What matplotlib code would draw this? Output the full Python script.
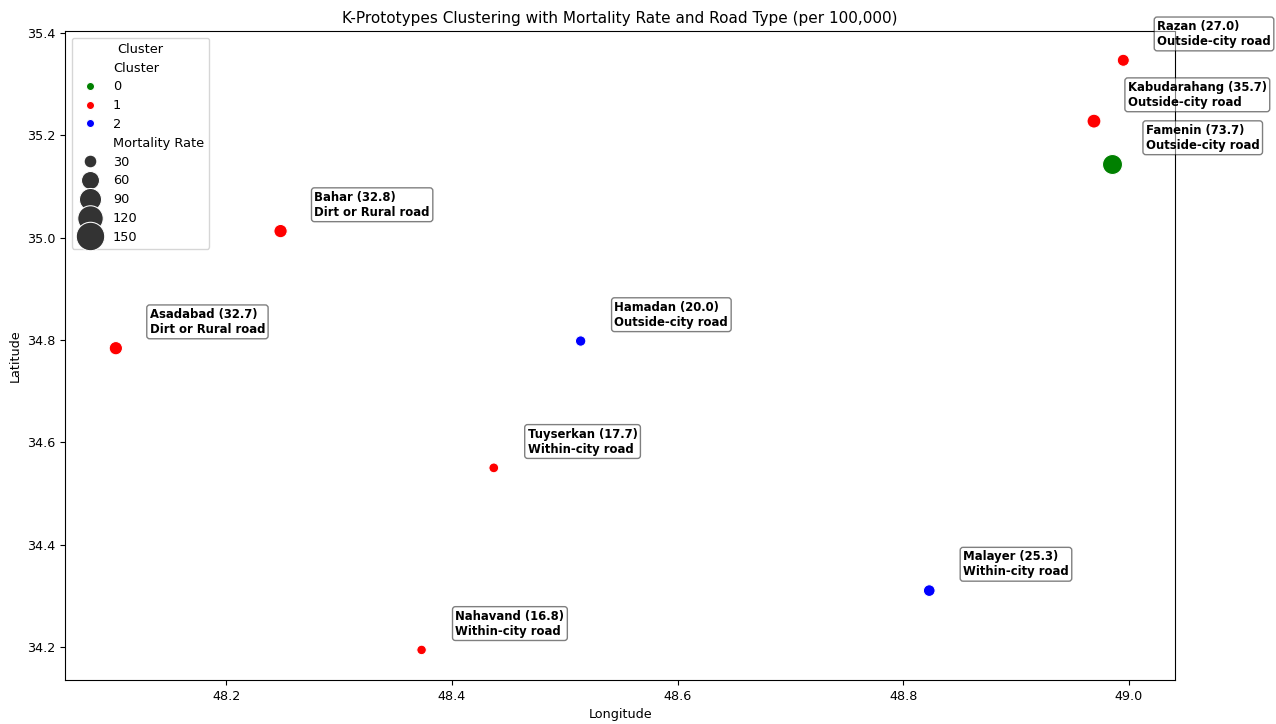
import matplotlib
matplotlib.use("Agg")
import matplotlib.pyplot as plt
from matplotlib.lines import Line2D
import numpy as np

# city data
cities = ["Razan", "Kabudarahang", "Famenin", "Bahar", "Asadabad",
          "Hamadan", "Tuyserkan", "Malayer", "Nahavand"]
longitude = [48.995, 48.969, 48.985, 48.248, 48.102, 48.514, 48.437, 48.823, 48.373]
latitude = [35.347, 35.228, 35.144, 35.013, 34.784, 34.798, 34.550, 34.310, 34.194]
mortality = [27.0, 35.7, 73.7, 32.8, 32.7, 20.0, 17.7, 25.3, 16.8]
road_type = ["Outside-city road", "Outside-city road", "Outside-city road",
             "Dirt or Rural road", "Dirt or Rural road", "Outside-city road",
             "Within-city road", "Within-city road", "Within-city road"]
cluster = [1, 1, 0, 1, 1, 2, 1, 2, 1]

cluster_colors = {0: "green", 1: "red", 2: "blue"}
legend_sizes = [30, 60, 90, 120, 150]
SIZE_SCALE = 2.8  # marker area (pt^2) per unit of mortality rate

fig, ax = plt.subplots(figsize=(12.76, 7.24), dpi=100)

for c in sorted(cluster_colors):
    idx = [i for i in range(len(cities)) if cluster[i] == c]
    ax.scatter([longitude[i] for i in idx], [latitude[i] for i in idx],
               s=[mortality[i] * SIZE_SCALE for i in idx],
               color=cluster_colors[c], edgecolor="white", linewidth=0.75, zorder=3)

for i in range(len(cities)):
    ax.text(longitude[i] + 0.03, latitude[i] + 0.03,
            f"{cities[i]} ({mortality[i]:.1f})\n{road_type[i]}",
            fontsize=8.4, fontweight="bold", zorder=4,
            bbox=dict(facecolor="white", alpha=0.5, boxstyle="round,pad=0.25"))

ax.set_xlim(48.057, 49.041)
ax.set_ylim(34.1355, 35.404)
ax.set_xticks([48.2, 48.4, 48.6, 48.8, 49.0])
ax.set_yticks([34.2, 34.4, 34.6, 34.8, 35.0, 35.2, 35.4])
ax.tick_params(labelsize=9.2)

handles = [Line2D([], [], linestyle="", label="Cluster")]
for c in sorted(cluster_colors):
    handles.append(Line2D([], [], marker="o", linestyle="", color=cluster_colors[c],
                          markeredgecolor="white", markeredgewidth=0.75,
                          markersize=np.sqrt(SIZE_SCALE * 12), label=str(c)))
handles.append(Line2D([], [], linestyle="", label="Mortality Rate"))
for s in legend_sizes:
    handles.append(Line2D([], [], marker="o", linestyle="", color="#333333",
                          markeredgecolor="white", markeredgewidth=0.75,
                          markersize=np.sqrt(SIZE_SCALE * s), label=str(s)))
ax.legend(handles=handles, title="Cluster", loc="upper left",
          fontsize=9.3, title_fontsize=9.3, labelspacing=0.45)

ax.set_title("K-Prototypes Clustering with Mortality Rate and Road Type (per 100,000)",
             fontsize=11)
ax.set_xlabel("Longitude", fontsize=9.2)
ax.set_ylabel("Latitude", fontsize=9.2)

fig.subplots_adjust(left=0.051, right=0.921, top=0.957, bottom=0.061)
fig.savefig("out.png", dpi=100)
